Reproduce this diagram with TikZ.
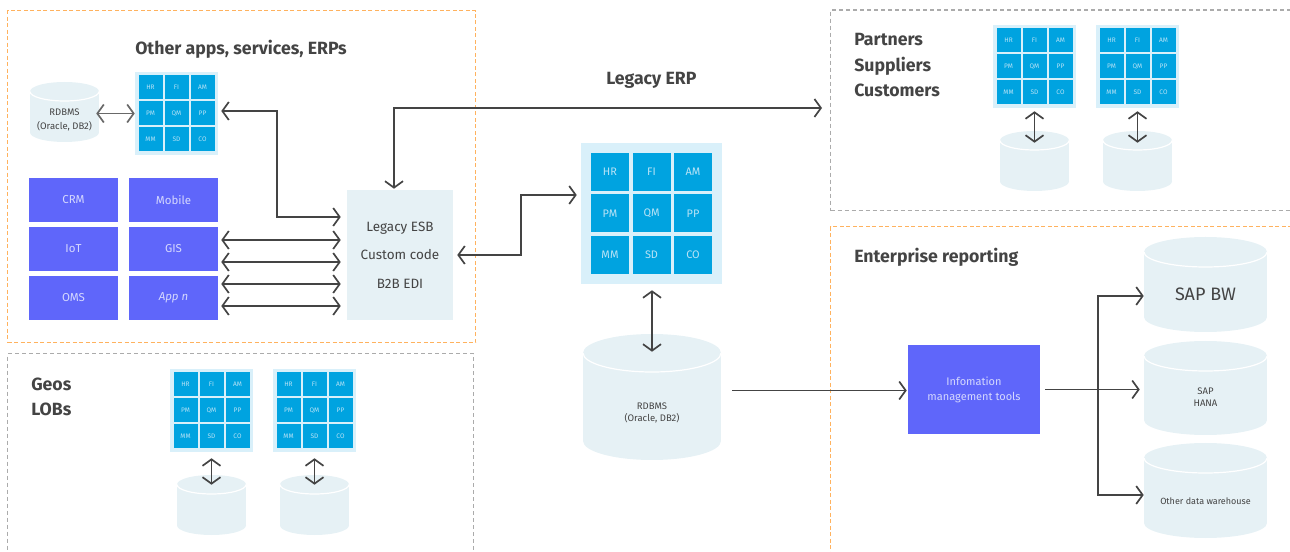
\documentclass[tikz,border=0pt]{standalone}
\usepackage{fontspec}
\setmainfont{Fira Sans}
\usetikzlibrary{arrows.meta,calc}

\definecolor{inkgray}{HTML}{444444}
\definecolor{framegray}{HTML}{ABABAB}
\definecolor{frameorange}{HTML}{FFB25E}
\definecolor{violetbox}{HTML}{5F66FA}
\definecolor{violettext}{HTML}{D5D8FE}
\definecolor{paleblue}{HTML}{E6F1F5}
\definecolor{gridback}{HTML}{D9F0FA}
\definecolor{cellblue}{HTML}{00A3E0}
\definecolor{celltext}{HTML}{B9E3F6}

% one reference pixel
\def\px{0.75pt}
\newcommand{\fsize}[1]{\pgfmathsetmacro{\fsizept}{#1*0.75}\pgfmathsetmacro{\fskippt}{#1*0.95}\fontsize{\fsizept}{\fskippt}\selectfont}

% name, centre x, centre y, outer size, cell size, cell pitch, font size in pt
\newcommand{\erpgrid}[7]{
    \node[grid_back, minimum size=#4*\px] (#1) at (#2,#3) {};
    \foreach \lbl [count=\cellnum from 0] in {HR,FI,AM,PM,QM,PP,MM,SD,CO} {
        \pgfmathtruncatemacro{\gridcol}{mod(\cellnum,3)-1}
        \pgfmathtruncatemacro{\gridrow}{div(\cellnum,3)-1}
        \node[cell_box, minimum size=#5*\px, font=\fontsize{#7}{#7}\selectfont]
            (#1-\lbl) at ({#2+\gridcol*#6},{#3+\gridrow*#6}) {\lbl};
    }
}

% name, left, right, top, bottom, ellipse height, text shift, font size, text
\newcommand{\dbcyl}[9]{
    \fill[paleblue] ({(#2+#3)/2},{#4+#6}) ellipse [x radius={(#3-#2)/2}, y radius=#6];
    \fill[paleblue] ({(#2+#3)/2},{#5-#6}) ellipse [x radius={(#3-#2)/2}, y radius=#6];
    \fill[paleblue] (#2,{#4+#6}) rectangle (#3,{#5-#6});
    \draw[white, line width=1.2*\px] (#2,{#4+#6}) arc [start angle=180, end angle=0, x radius={(#3-#2)/2}, y radius=#6];
    \node[inner sep=0, minimum width={(#3-#2)*\px}, minimum height={(#5-#4)*\px}] (#1) at ({(#2+#3)/2},{(#4+#5)/2}) {};
    \node[cyl_text, font=\fsize{#8}] (#1-text) at ($(#1)+(0,#7)$) {#9};
}

\begin{document}
\begin{tikzpicture}[x=\px, y=-\px]
    \tikzstyle{frame_orange} = [draw=frameorange, line width=1.3*\px, dash pattern=on 4*\px off 2.5*\px, anchor=north west, inner sep=0]
    \tikzstyle{frame_gray} = [draw=framegray, line width=1.2*\px, dash pattern=on 4*\px off 3*\px, anchor=north west, inner sep=0]
    \tikzstyle{grid_back} = [fill=gridback, inner sep=0]
    \tikzstyle{cell_box} = [fill=cellblue, text=celltext, inner sep=0]
    \tikzstyle{app_box} = [fill=violetbox, text=violettext, inner sep=0, minimum width=89*\px, minimum height=44*\px, font=\fsize{11.5}]
    \tikzstyle{cyl_text} = [text=inkgray, align=center, inner sep=0]
    \tikzstyle{title_text} = [text=inkgray, anchor=west, align=left, inner sep=0, font=\bfseries\fsize{17.7}]
    \tikzstyle{arrow_both} = [{Straight Barb[length=6.5*\px, width=18*\px, line width=1.7*\px]}-{Straight Barb[length=6.5*\px, width=18*\px, line width=1.7*\px]}, inkgray, line width=1.7*\px]
    \tikzstyle{arrow_one} = [-{Straight Barb[length=6.5*\px, width=18*\px, line width=1.7*\px]}, inkgray, line width=1.7*\px]

    \useasboundingbox (0,0) rectangle (1290,552);
    \clip (0,0) rectangle (1290,552);

    % dashed areas, those at the edge run out of the picture
    \node[frame_orange, minimum width=468*\px, minimum height=332*\px] (apps_area) at (7,10) {};
    \node[frame_gray, minimum width=466*\px, minimum height=220*\px] (geos_area) at (7,353) {};
    \node[frame_gray, minimum width=480*\px, minimum height=200.5*\px] (partners_area) at (830,9.5) {};
    \node[frame_orange, minimum width=480*\px, minimum height=340*\px] (reporting_area) at (830,226) {};

    \node[title_text] (apps_title) at (135,49) {Other apps, services, ERPs};
    \node[title_text] (erp_title) at (606,80) {Legacy ERP};
    \node[title_text] (partners_title) at (854,65.5) {Partners\\[2.3pt]Suppliers\\[2.3pt]Customers};
    \node[title_text] (geos_title) at (31,397) {Geos\\[2.3pt]LOBs};
    \node[title_text] (reporting_title) at (854,257) {Enterprise reporting};

    % left area
    \dbcyl{apps_db}{30}{99}{82}{142}{9.5}{8}{9.5}{RDBMS\\[1pt](Oracle, DB2)}
    \erpgrid{apps_grid}{176.5}{113.5}{83}{24}{26}{4.9}

    \node[app_box] (crm) at (73.5,200) {CRM};
    \node[app_box] (iot) at (73.5,249) {IoT};
    \node[app_box] (oms) at (73.5,298) {OMS};
    \node[app_box] (mobile) at (173.5,200) {Mobile};
    \node[app_box] (gis) at (173.5,249) {GIS};
    \node[app_box] (appn) at (173.5,298) {\itshape App n};

    \node[fill=paleblue, text=inkgray, inner sep=0, minimum width=106*\px, minimum height=130*\px, align=center, font=\fsize{13.5}] (esb) at (400,255) {Legacy ESB\\[8.5pt]Custom code\\[8.5pt]B2B EDI};

    % bottom left area
    \erpgrid{geos_grid1}{211.5}{410.5}{83}{24}{26}{4.9}
    \erpgrid{geos_grid2}{314.5}{410.5}{83}{24}{26}{4.9}
    \dbcyl{geos_db1}{177}{246}{475}{535}{9.5}{8}{9}{}
    \dbcyl{geos_db2}{280}{349}{475}{535}{9.5}{8}{9}{}

    % middle
    \erpgrid{erp_grid}{651.5}{213.5}{141}{38}{41.5}{8.2}
    \dbcyl{erp_db}{583}{721}{334}{460}{19}{16}{9.5}{RDBMS\\(Oracle, DB2)}

    % top right area
    \erpgrid{partners_grid1}{1034.5}{66.5}{83}{24}{26}{4.9}
    \erpgrid{partners_grid2}{1137.5}{66.5}{83}{24}{26}{4.9}
    \dbcyl{partners_db1}{1000}{1069}{131}{191}{9.5}{8}{9}{}
    \dbcyl{partners_db2}{1103}{1172}{131}{191}{9.5}{8}{9}{}

    % bottom right area
    \node[fill=violetbox, text=violettext, inner sep=0, minimum width=132*\px, minimum height=89*\px, align=center, font=\fsize{11}] (info) at (974,389.5) {Infomation\\[0.7pt]management tools};
    \dbcyl{sapbw}{1144}{1267}{237}{332}{15}{9.5}{18}{SAP BW}
    \dbcyl{hana}{1144}{1267}{341}{435}{15}{9}{9.5}{SAP\\HANA}
    \dbcyl{otherdw}{1144}{1267}{443}{538}{15}{10.5}{9}{Other data warehouse}

    % connectors
    \draw[arrow_both, inkgray!80, line width=1.2*\px] ($(apps_db.east)+(-3,1.5)$) -- (apps_grid.west);
    \draw[arrow_both] ($(apps_grid.east)+(3,-2.5)$) -| ($(esb.west)+(-70,-38)$) -- ($(esb.west)+(-6,-38)$);
    \foreach \src/\dy/\ey in {gis/-9/-15, gis/13/7, appn/-14/29, appn/8/51} {
        \draw[arrow_both] ($(\src.east)+(3,\dy)$) -- ($(esb.west)+(-6,\ey)$);
    }
    \draw[arrow_both] ($(esb.north)+(-6,-1)$) |- ($(partners_area.north west)+(-8,98.5)$);
    \draw[arrow_both] ($(esb.east)+(4,0)$) -- ($(esb.east)+(68,0)$) |- ($(erp_grid.west)+(-4,-18.5)$);
    \draw[arrow_both] ($(erp_grid.south)+(0.5,6)$) -- ($(erp_db.north)+(0,18)$);

    \foreach \gridname/\dbname/\up/\down in {partners_grid1/partners_db1/3/12, partners_grid2/partners_db2/3/12, geos_grid1/geos_db1/6/10, geos_grid2/geos_db2/6/10} {
        \draw[arrow_both] ($(\gridname.south)+(0,\up)$) -- ($(\dbname.north)+(0,\down)$);
    }

    \draw[arrow_one] ($(erp_db.east)+(11,-6.5)$) -- ($(info.west)+(-1,1)$);
    \coordinate (branch) at ($(info.east)+(58,0)$);
    \draw[arrow_one] ($(info.east)+(5,0)$) -- ($(hana.west)+(-4,1.5)$);
    \draw[arrow_one] (branch) |- ($(sapbw.west)+(0,11.5)$);
    \draw[arrow_one] (branch) |- ($(otherdw.west)+(0,4.5)$);
\end{tikzpicture}
\end{document}
